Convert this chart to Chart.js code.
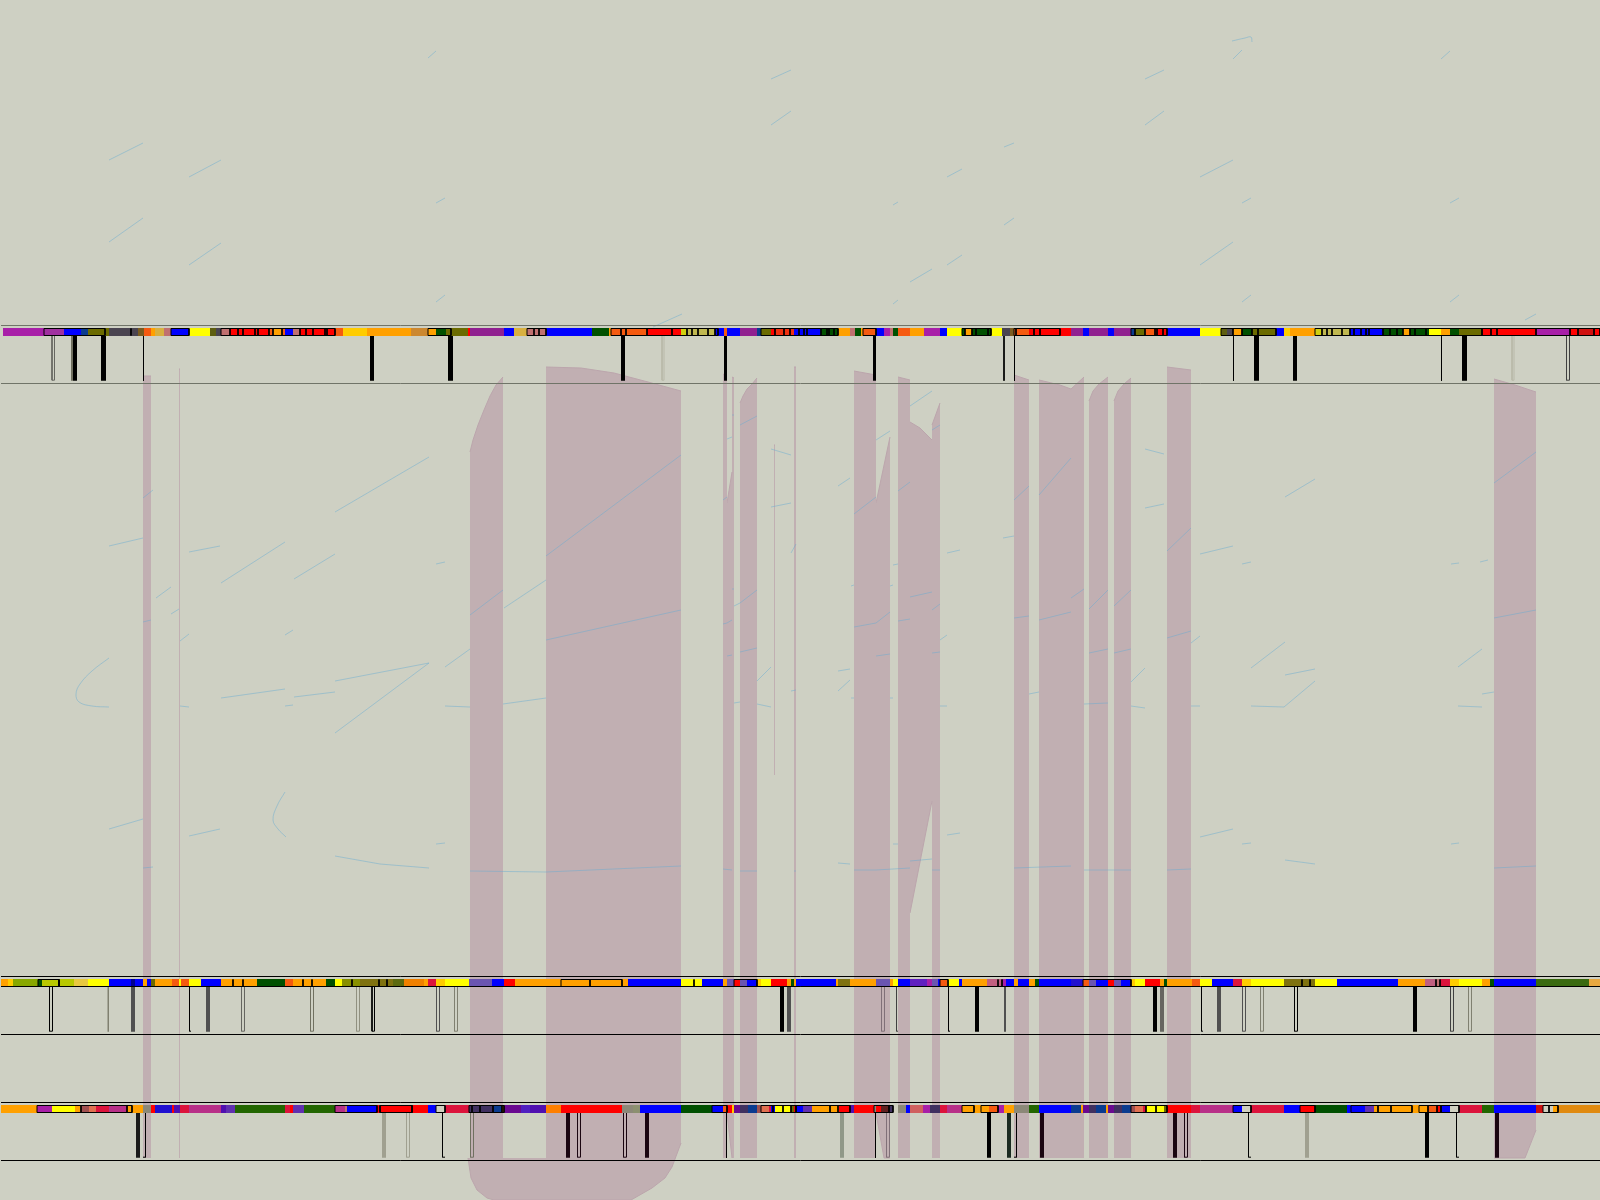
<!DOCTYPE html>
<html>
<head>
<meta charset="utf-8">
<title>tracks</title>
<script src="https://cdn.jsdelivr.net/npm/chart.js@4/dist/chart.umd.js"></script>
<style>
  html, body { margin: 0; padding: 0; background: #ced0c3; }
  canvas { display: block; }
</style>
</head>
<body>
<canvas id="chart" width="1600" height="1200"></canvas>
<script>
// colour names used by the three band tracks
const palette = {
  R:'#ff0000', R2:'#d01010', B:'#0000ff', Y:'#ffff00', O:'#ffa000', O2:'#cc8830', OE:'#f08000', OE2:'#e08a10',
  E:'#f55a10', E2:'#f03010', F:'#ff7f00', G:'#005000', V:'#6b6b00', V2:'#5e5e10', P:'#a81fa8', PB:'#a030a0',
  Q:'#902090', N:'#0b3b8f', N2:'#000090', N3:'#2010d0', D:'#4a4450', D2:'#602020', W:'#7a5c20', L:'#ffcc00',
  S:'#c07070', S2:'#c06080', S4:'#a05050', S5:'#d06060', T:'#c0b850', H:'#d8b040', H2:'#e8c840', H3:'#e8a840',
  C:'#dc143c', U:'#b83088', A:'#6a55b0', X:'#226600', X2:'#3a6a10', Z:'#8c8878', Z2:'#8c9070', I:'#d0d0c0',
  J:'#5010b0', J2:'#6020c0', J3:'#6030b0', J4:'#6a0a90', J5:'#5020c0', K:'#403060', M:'#e07050',
  YG:'#d0d010', YG2:'#b8c800', YG3:'#88a800', OL1:'#889000', OL2:'#7f7210', OL3:'#5c6a10'
};

// track 1 band
const oneEdges = [3,44,64,71,81,88,105,109,138,144,151,155,164,171,189,210,216,221,230,269,273,282,285,293,300,335,343,367,411,428,436,446,451,468,470,504,514,527,546,592,609,611,647,681,687,715,724,727,740,757,761,771,775,794,821,838,850,855,861,863,876,884,890,893,898,910,924,940,947,962,965,972,991,1002,1010,1014,1029,1071,1083,1089,1108,1114,1131,1135,1145,1155,1167,1200,1221,1227,1233,1242,1252,1276,1284,1290,1315,1322,1350,1383,1403,1410,1429,1441,1450,1459,1482,1536,1570,1578,1594,1600];
const oneColours = 'P PB B B N V V D W E O H S B Y V2 D S R E O E B S R E L O O2 O G V V R Q B H S B G O E R YG T B E B Q N V R E2 B G O S G O E B P S G E O P B Y G O G Y D W E R Q B Q B Q N V E R B Y V2 D O G V B L O YG T B G O G Y O G V R P R R2 R'.split(' ');
const oneFrames = [[44,105],[171,189],[221,335],[428,451],[527,546],[611,718],[761,838],[863,876],[962,991],[1014,1060],[1131,1167],[1221,1276],[1315,1482],[1482,1600]];
const oneDividers = [131,230,238,243,255,258,269,273,282,300,306,313,325,327,534,539,621,626,647,672,687,692,698,708,715,775,784,790,799,804,807,821,827,829,834,965,972,976,988,1016,1034,1040,1135,1145,1155,1157,1163,1233,1242,1252,1258,1322,1327,1332,1342,1350,1354,1361,1366,1369,1383,1390,1397,1403,1410,1415,1426,1491,1497,1536,1570,1578,1594];

// track 2 band
const twoEdges = [1,8,13,38,42,74,88,109,131,135,143,147,151,155,172,179,181,189,201,221,257,285,293,326,335,342,360,393,404,424,428,436,445,469,492,504,515,546,628,681,702,723,727,734,740,747,757,761,771,787,791,794,796,836,838,850,876,890,893,898,910,927,932,938,940,947,959,962,987,1002,1006,1014,1018,1029,1035,1039,1071,1083,1089,1096,1108,1114,1121,1131,1135,1145,1160,1164,1167,1192,1200,1212,1233,1242,1251,1284,1315,1337,1398,1425,1436,1440,1450,1459,1482,1490,1494,1536,1589,1600];
const twoColours = 'O L YG3 G YG2 H2 Y B N2 B O B V O E Y E Y B O G E O G Y OL1 OL2 OL3 OE O C L Y A B R O O B Y B O A R A B L Y R O G O B O OL2 O A O Y B J2 P A B E Y B O S2 P B O B O G B N3 E A B R A B L Y R O G O E Y B C L Y OL2 Y B O S2 S C L Y O G B X2 H3'.split(' ');
const twoFrames = [[38,59],[561,622],[734,757],[940,948],[1083,1131]];
const twoDividers = [59,233,243,303,312,352,379,387,590,694,998,1002,1302,1310,1436,1440];

// track 3 band
const threeEdges = [1,37,52,75,81,89,96,109,127,143,151,155,172,174,180,189,221,226,235,285,290,293,304,335,345,347,377,428,436,445,469,494,502,504,521,530,546,561,622,633,640,681,712,723,727,732,734,740,748,757,761,769,771,775,791,794,796,803,812,839,850,854,874,876,881,889,893,898,906,910,923,930,940,947,962,989,998,1004,1014,1029,1039,1071,1081,1083,1089,1096,1106,1108,1114,1122,1131,1135,1143,1146,1164,1167,1191,1200,1233,1242,1251,1284,1300,1315,1347,1365,1374,1419,1428,1437,1441,1450,1459,1482,1494,1536,1543,1553,1558,1600];
const threeColours = 'O P Y O S4 M C U O Z R N3 R J C U J J3 X C R J3 X U S B R B I C K N O J4 J5 J F R Z Z2 B G B E R L J4 K N S4 M C B Y V R B J3 O R J R Z R D2 K I Z B S5 P K C U O E P O Z X B N O J4 K N O J4 K N S4 M C Y V R C U B I C B R G B J3 O O E R B I C X B R2 I O OE2'.split(' ');
const threeFrames = [[37,132],[335,377],[380,412],[436,445],[469,504],[712,727],[761,796],[796,850],[874,893],[962,974],[981,998],[1131,1167],[1233,1251],[1300,1315],[1351,1412],[1419,1441],[1441,1459],[1543,1558]];
const threeDividers = [81,127,380,412,472,480,493,502,773,783,791,830,838,889,1146,1156,1378,1391,1428,1437,1549];

// ticks under each band: left edge, right edge, style key
const oneTickFrom = [51.5,71,73,101,143,370,448,621,661.5,724,873,1003.5,1014,1233,1254,1293,1441,1462,1511.5,1566];
const oneTickTo =   [55,73,77,106,144,374,453,625,664.5,727,876,1004.5,1015,1234,1259,1297,1442,1467,1514.5,1570];
const oneTickKind = ['h6','s7','k','k','k','k','k','k','hL','k','k','k','k','k','k','k','k','k','hL','h4'];

const twoTickFrom = [49,107.5,131,189,206,241,310,356,371.5,436,454,780,787,881,896,948,975,1004,1153,1160,1201,1217,1242,1260,1294,1413,1450,1468];
const twoTickTo =   [53,109,135,191,210,245,314,360,375,440,458,784,791,885,898,950,979,1006,1157,1164,1203,1221,1246,1264,1298,1417,1454,1472];
const twoTickKind = ['hk','s8','s5','bk','s5','h6','h7','h9','hk','h5','h8','k','s5','hP','b4','bk','k','s5','k','s6','bk','s5','h5','h8','hk','k','h4','h8'];

const threeTickFrom = [136,143,382,406,442,470,566,577,623,645,726,840,875,886,987,1007,1014,1040,1173,1184,1248,1305,1425,1456,1495];
const threeTickTo =   [140,146,386,410,445,474,570,581,627,649,727,844,876,890,991,1011,1017,1044,1177,1188,1251,1309,1429,1459,1499];
const threeTickKind = ['s1','dk','sA','hA','bk','h7','sD','hD','hD','sD','k','sG','k','hP','k','s2','dk','sD','sD','hD','bk','sA','k','bk','sD'];

// horizontal rules
const ruleRows = [325.5,383.5,976.5,986.5,1034.5,1102.5,1160.5];
const ruleTone = ['#707468','#707468','#000000','#000000','#000000','#000000','#000000'];

// vertical tinted spans: edge points and the value each is filled to
const spanEdges = [
  [[143,376],[151,376]],
  [[179,369],[180,369]],
  [[470,452],[473,440],[478,425],[484,410],[490,396],[496,385],[503,377]],
  [[546,367],[581,368],[614,373],[648,382],[681,391]],
  [[546,1200],[631,1200],[652,1188],[665,1178],[672,1167],[681,1143]],
  [[468,1158],[471,1178],[477,1190],[487,1198],[494,1200],[546,1200]],
  [[723,374],[727,376]],
  [[727,503],[732,472]],
  [[727,1113],[732,1158]],
  [[732,377],[734,378]],
  [[740,403],[743,396],[747,389],[752,384],[757,378]],
  [[774,445],[775,445]],
  [[794,367],[796,367]],
  [[854,371],[876,375]],
  [[876,503],[890,437]],
  [[876,1113],[884,1158],[890,1158]],
  [[898,377],[910,380]],
  [[910,422],[920,428],[932,440]],
  [[910,913],[932,801]],
  [[932,425],[940,403]],
  [[1014,375],[1029,380]],
  [[1039,380],[1060,385],[1071,389],[1084,377]],
  [[1089,401],[1093,391],[1099,384],[1108,377]],
  [[1114,401],[1118,391],[1124,384],[1131,378]],
  [[1167,367],[1191,370]],
  [[1494,379],[1515,385],[1536,392]],
  [[1494,1158],[1525,1158],[1536,1130]]
];
const spanBases = [1158,1158,1158,1143,1143,1158,1158,800,800,1158,1158,775,1158,1158,800,800,1158,700,700,1158,1158,1158,1158,1158,1158,1130,1130];

// thin sloping strokes
const strokes = [
  [[428,58],[436,51]],[[771,79],[791,70]],[[771,125],[791,111]],[[109,160],[143,143]],[[189,177],[221,160]],[[436,203],[445,198]],
  [[109,242],[143,218]],[[189,265],[221,243]],[[436,302],[445,295]],[[653,327],[682,314]],
  [[1232,41],[1245,38],[1251,37],[1252,42]],[[1233,59],[1242,50]],[[1145,79],[1164,70]],[[1145,125],[1164,111]],[[1441,59],[1450,51]],
  [[1004,147],[1014,143]],[[947,177],[962,169]],[[893,205],[898,202]],[[1004,225],[1014,218]],[[947,265],[962,255]],[[910,282],[932,269]],
  [[893,304],[898,300]],[[1200,177],[1233,160]],[[1200,265],[1233,242]],[[1242,203],[1251,198]],[[1242,302],[1251,295]],
  [[1450,203],[1459,198]],[[1450,302],[1459,295]],[[1525,320],[1536,314]],
  [[143,498],[153,490]],[[109,546],[143,538]],[[189,552],[220,546]],[[221,583],[285,542]],[[294,579],[335,554]],[[335,512],[429,457]],
  [[156,598],[171,587]],[[171,614],[179,609]],[[143,622],[151,620]],[[180,641],[189,634]],[[285,635],[293,630]],[[436,564],[445,562]],
  [[470,615],[503,590]],[[504,608],[546,580]],[[546,556],[681,455]],[[546,640],[681,610]],[[335,681],[429,663]],[[335,733],[429,663]],
  [[445,667],[470,649]],[[221,698],[285,689]],[[294,697],[335,692]],[[285,706],[293,705]],[[180,706],[189,707]],
  [[109,658],[92,671],[80,684],[76,694],[79,702],[92,706],[109,707]],[[445,706],[470,707]],[[503,704],[546,698]],
  [[109,829],[143,819]],[[189,836],[220,829]],[[285,792],[277,806],[273,820],[278,829],[286,837]],[[335,856],[380,864],[429,868]],
  [[470,871],[546,872],[681,866]],[[436,844],[445,843]],[[143,868],[153,867]],
  [[727,439],[732,437]],[[732,415],[734,415]],[[740,425],[757,416]],[[723,500],[727,497]],[[734,606],[740,603],[757,590]],
  [[723,624],[727,623],[732,620]],[[732,589],[734,589]],[[727,656],[732,655]],[[740,652],[757,648]],[[734,703],[740,702]],[[757,704],[771,707]],
  [[757,681],[771,667]],[[771,449],[791,455]],[[771,507],[791,503]],[[791,553],[796,544]],[[791,691],[796,690]],
  [[723,869],[732,870]],[[740,871],[757,871]],[[794,871],[796,871]],
  [[838,486],[850,478]],[[854,514],[876,497]],[[876,440],[890,431]],[[898,491],[910,482]],[[910,406],[932,391]],[[932,430],[940,425]],
  [[838,671],[850,669]],[[838,691],[850,680]],[[851,586],[854,585]],[[890,586],[893,585]],[[893,565],[898,564]],
  [[854,627],[876,623],[890,612]],[[876,656],[890,654]],[[898,621],[910,619]],[[910,597],[932,592]],[[932,610],[940,604]],[[932,653],[940,652]],
  [[940,640],[947,635]],[[947,553],[960,550]],[[851,698],[854,698]],[[890,698],[893,698]],[[940,706],[947,706]],
  [[838,863],[850,864]],[[854,870],[876,870],[910,868]],[[910,861],[932,859]],[[932,870],[940,870]],[[947,835],[960,833]],[[893,844],[898,844]],
  [[1014,500],[1029,486]],[[1003,538],[1014,536]],[[1039,495],[1071,458]],[[1145,449],[1164,454]],[[1145,508],[1164,504]],[[1167,551],[1191,528]],
  [[1200,554],[1233,546]],[[1242,564],[1251,562]],[[1285,497],[1315,479]],[[1451,564],[1459,563]],[[1480,562],[1488,560]],
  [[1494,483],[1536,452]],[[1494,618],[1536,610]],[[1251,668],[1285,642]],[[1285,675],[1315,669]],[[1284,707],[1315,681]],[[1251,706],[1284,707]],
  [[1458,667],[1482,649]],[[1458,706],[1482,707]],[[1482,694],[1494,692]],[[1200,837],[1233,829]],[[1242,844],[1251,843]],[[1285,860],[1315,864]],
  [[1451,844],[1459,843]],[[1494,868],[1536,866]],[[1071,598],[1084,589]],[[1039,620],[1071,612]],[[1089,609],[1108,590]],[[1114,606],[1131,590]],
  [[1089,653],[1108,649]],[[1114,653],[1131,649]],[[1167,638],[1191,631]],[[1131,682],[1145,668]],[[1191,643],[1200,636]],[[1029,694],[1039,692]],
  [[1084,704],[1108,703]],[[1131,706],[1145,708]],[[1191,706],[1200,706]],[[1014,618],[1029,616]],[[1014,868],[1071,866]],[[1084,870],[1131,870]],
  [[1167,870],[1191,869]]
];

// tick styles: s = solid, h = hollow box, b = thin with foot to the right, d = thin with foot to the left
const tickTones = {k:'#000000','1':'#1a1a1a','2':'#1a2a20','4':'#404040','5':'#505050','6':'#666660','7':'#707060','8':'#808070','9':'#909080',
  L:'#b8b8a8',P:'#807078',A:'#a0a090',D:'#1a0510',G:'#909888'};

function pts(list) {
  return list.map(p => ({x: p[0], y: p[1]}));
}

function lineSet(points, colour, width, order) {
  return {data: points, borderColor: colour, borderWidth: width, order: order, pointRadius: 0, tension: 0, fill: false, borderCapStyle: 'butt', borderJoinStyle: 'miter'};
}

function bandSet(edges, colours, y) {
  const set = lineSet(edges.map(x => ({x: x, y: y})), '#000', 8, 1);
  set.segment = {borderColor: c => palette[colours[c.p0DataIndex]]};
  return set;
}

function frameSets(frames, dividers, top, bottom) {
  const out = [];
  frames.forEach(f => {
    out.push(lineSet(pts([[f[0],top],[f[1],top],[f[1],bottom],[f[0],bottom],[f[0],top]]), '#000', 1, 0));
  });
  dividers.forEach(x => {
    out.push(lineSet(pts([[x,top],[x,bottom]]), '#000', 1, 0));
  });
  return out;
}

function tickSets(from, to, kinds, top, bottom) {
  return from.map((a, i) => {
    const b = to[i];
    const kind = kinds[i];
    const form = kind.length > 1 ? kind[0] : 's';
    const tone = tickTones[kind.length > 1 ? kind[1] : kind];
    if (form == 'h') {
      return lineSet(pts([[a+0.5,top],[a+0.5,bottom-0.5],[b-0.5,bottom-0.5],[b-0.5,top]]), tone, 1, 3);
    }
    if (form == 'b') {
      return lineSet(pts([[a+0.5,top],[a+0.5,bottom-0.5],[b,bottom-0.5]]), tone, 1, 3);
    }
    if (form == 'd') {
      return lineSet(pts([[b-0.5,top],[b-0.5,bottom-0.5],[a,bottom-0.5]]), tone, 1, 3);
    }
    return lineSet(pts([[(a+b)/2,top],[(a+b)/2,bottom]]), tone, b-a, 3);
  });
}

function spanSets() {
  return spanEdges.map((edge, i) => {
    const set = lineSet(pts(edge), '#bba5ac', 1, 5);
    set.fill = {target: {value: spanBases[i]}};
    set.backgroundColor = '#c1afb2';
    return set;
  });
}

function strokeSet(s) {
  const set = lineSet(pts(s), 'rgba(100,170,210,0.45)', 1, 2);
  // the few curved strokes have more points
  if (s.length > 3) {
    set.tension = 0.4;
  }
  return set;
}

function createChart() {
  const datasets = [];
  spanSets().forEach(s => datasets.push(s));
  tickSets(oneTickFrom, oneTickTo, oneTickKind, 336, 380.7).forEach(s => datasets.push(s));
  tickSets(twoTickFrom, twoTickTo, twoTickKind, 987, 1031.7).forEach(s => datasets.push(s));
  tickSets(threeTickFrom, threeTickTo, threeTickKind, 1113, 1157.7).forEach(s => datasets.push(s));
  strokes.forEach(s => datasets.push(strokeSet(s)));
  datasets.push(bandSet(oneEdges, oneColours, 332));
  datasets.push(bandSet(twoEdges, twoColours, 983));
  datasets.push(bandSet(threeEdges, threeColours, 1109));
  ruleRows.forEach((y, i) => datasets.push(lineSet(pts([[1,y],[1600,y]]), ruleTone[i], 1, 0)));
  frameSets(oneFrames, oneDividers, 328.5, 335.5).forEach(s => datasets.push(s));
  frameSets(twoFrames, twoDividers, 979.5, 986.5).forEach(s => datasets.push(s));
  frameSets(threeFrames, threeDividers, 1105.5, 1112.5).forEach(s => datasets.push(s));

  new Chart(document.getElementById('chart'), {
    type: 'line',
    data: {datasets: datasets},
    options: {
      responsive: false,
      animation: false,
      layout: {padding: 0},
      plugins: {legend: {display: false}, tooltip: {enabled: false}},
      events: [],
      scales: {
        x: {type: 'linear', min: 0, max: 1600, display: false},
        y: {type: 'linear', min: 0, max: 1200, reverse: true, display: false}
      }
    }
  });
}

createChart();
</script>
</body>
</html>
